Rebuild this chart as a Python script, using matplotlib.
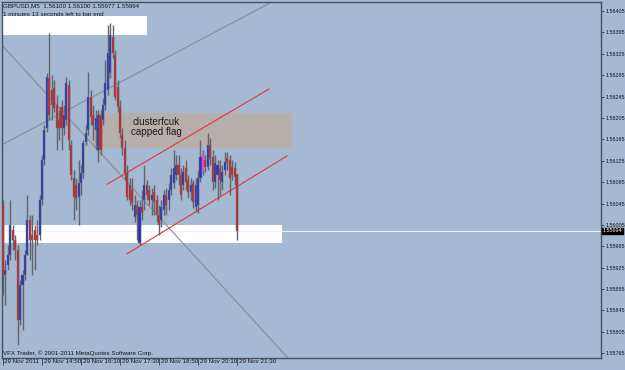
import numpy as np
import matplotlib.pyplot as plt
import matplotlib.transforms as mtransforms
from matplotlib.patches import Rectangle

plt.rcParams['font.family'] = ['Liberation Sans', 'DejaVu Sans']

# GBPUSD M5, 29 Nov 2011 13:30 - 21:30 (97 bars), prices in points (1e-5)
opens = [156042, 155911, 155930, 155949, 155995, 155977, 155958, 155827, 155893, 155911,
         155949, 156014, 155986, 155995, 155986, 155986, 156052, 156126, 156186, 156280,
         156257, 156261, 156229, 156201, 156225, 156186, 156201, 156267, 156154, 156093,
         156080, 156057, 156083, 156102, 156160, 156182, 156244, 156210, 156182, 156145,
         156210, 156201, 156229, 156257, 156289, 156356, 156323, 156263, 156225, 156173,
         156149, 156102, 156080, 156070, 156020, 156042, 155971, 156039, 156052, 156080,
         156070, 156052, 156067, 156052, 156024, 156014, 156033, 156061, 156052, 156070,
         156083, 156098, 156117, 156098, 156080, 156111, 156089, 156067, 156083, 156039,
         156042, 156093, 156104, 156126, 156113, 156154, 156132, 156085, 156098, 156111,
         156085, 156108, 156130, 156126, 156113, 156111, 156100]
highs = [156052, 155939, 155967, 156052, 156005, 155986, 155967, 155902, 155921, 155958,
         156061, 156024, 156024, 156005, 156014, 156061, 156136, 156192, 156289, 156364,
         156285, 156276, 156248, 156220, 156239, 156229, 156282, 156276, 156164, 156108,
         156093, 156126, 156117, 156164, 156192, 156291, 156257, 156229, 156220, 156220,
         156220, 156242, 156313, 156379, 156383, 156379, 156332, 156276, 156239, 156186,
         156164, 156117, 156093, 156093, 156061, 156052, 156052, 156070, 156117, 156089,
         156080, 156074, 156080, 156061, 156042, 156052, 156070, 156074, 156083, 156111,
         156145, 156136, 156136, 156111, 156117, 156126, 156098, 156093, 156089, 156093,
         156108, 156164, 156145, 156136, 156177, 156167, 156145, 156136, 156126, 156126,
         156117, 156141, 156141, 156136, 156126, 156123, 156100]
lows = [155874, 155855, 155921, 155939, 155958, 155939, 155780, 155818, 155809, 155902,
        155949, 155939, 155911, 155921, 155967, 155977, 156042, 156117, 156179, 156201,
        156201, 156216, 156145, 156164, 156145, 156173, 156192, 156145, 156089, 156014,
        156033, 156005, 156061, 156093, 156154, 156173, 156192, 156164, 156145, 156123,
        156136, 156192, 156220, 156248, 156280, 156317, 156239, 156216, 156167, 156136,
        156089, 156052, 156042, 156033, 156010, 155977, 155967, 156014, 156033, 156052,
        156042, 156024, 156024, 156010, 155986, 156001, 156024, 156024, 156033, 156061,
        156074, 156089, 156080, 156052, 156070, 156070, 156055, 156052, 156037, 156029,
        156027, 156085, 156098, 156104, 156108, 156117, 156070, 156074, 156052, 156061,
        156070, 156098, 156108, 156061, 156089, 156080, 155977]
closes = [155911, 155921, 155949, 156005, 155977, 155958, 155827, 155893, 155911, 155949,
          156014, 155977, 155977, 155977, 155977, 156052, 156126, 156182, 156282, 156210,
          156229, 156224, 156186, 156186, 156186, 156210, 156270, 156164, 156098, 156057,
          156055, 156083, 156102, 156158, 156177, 156244, 156207, 156192, 156205, 156210,
          156145, 156229, 156270, 156326, 156360, 156326, 156244, 156225, 156177, 156149,
          156102, 156057, 156052, 156046, 156042, 156024, 156039, 156027, 156080, 156061,
          156052, 156061, 156048, 156024, 156005, 156039, 156061, 156042, 156070, 156098,
          156111, 156117, 156098, 156061, 156104, 156085, 156067, 156080, 156048, 156080,
          156093, 156132, 156136, 156113, 156154, 156130, 156085, 156121, 156117, 156089,
          156104, 156123, 156121, 156093, 156098, 156095, 155994]
magenta_bars = [82]

tick_bars = [0, 16, 32, 48, 64, 80, 96]
tick_labels = ["29 Nov 2011", "29 Nov 14:50", "29 Nov 16:10", "29 Nov 17:30",
               "29 Nov 18:50", "29 Nov 20:10", "29 Nov 21:30"]
price_ticks = [1.55765, 1.55805, 1.55845, 1.55885, 1.55925, 1.55965, 1.56005, 1.56045,
               1.56085, 1.56125, 1.56165, 1.56205, 1.56245, 1.56285, 1.56325, 1.56365,
               1.56405]

# objects drawn on the chart: (bar, price) pairs
gray_line_down = [(-0.41, 1.56341), (116.5, 1.55758)]
gray_line_up = [(-1.2, 1.56153), (112.0, 1.56426)]
red_upper = [(42.7, 1.56081), (109.1, 1.56259)]
red_lower = [(50.9, 1.55951), (116.5, 1.56134)]
top_box = (-0.41, 59.1, 1.56360, 1.56396)
bottom_box = (-0.41, 114.5, 1.55971, 1.56005)
flag_box = (36.5, 118.6, 1.56149, 1.56214)

BG = '#a5b9d3'
FRAME = '#46505e'

o = np.array(opens) / 1e5
h = np.array(highs) / 1e5
l = np.array(lows) / 1e5
c = np.array(closes) / 1e5
x = np.arange(len(o))

fig = plt.figure(figsize=(6.25, 3.7), dpi=100, facecolor=BG)
ax = fig.add_axes([2 / 625, 12 / 370, 599 / 625, 356 / 370])
ax.set_facecolor(BG)

for x0, x1, y0, y1 in [top_box, bottom_box]:
    ax.add_patch(Rectangle((x0, y0), x1 - x0, y1 - y0, color='white', lw=0, zorder=1))
x0, x1, y0, y1 = flag_box
ax.add_patch(Rectangle((x0, y0), x1 - x0, y1 - y0, color='#b6afab', lw=0, zorder=1))

ax.axhline(c[-1], color='#eef2f8', lw=0.8, zorder=1.5)

for pts, col in [(gray_line_down, '#8a8d94'), (gray_line_up, '#8a8d94'),
                 (red_upper, '#e8323a'), (red_lower, '#e8323a')]:
    xs, ys = zip(*pts)
    ax.plot(xs, ys, color=col, lw=0.8, zorder=2)

ax.vlines(x, l, h, color='#62656c', lw=1.0, zorder=3)
body_col = np.where(c >= o, '#2a34b4', '#c0282a').astype(object)
for i in magenta_bars:
    body_col[i] = '#ff40ff'
bottoms = np.minimum(o, c)
heights = np.maximum(np.abs(c - o), 0.000015)
ax.bar(x, heights, bottom=bottoms, width=0.85, color=list(body_col),
       edgecolor='#6e7178', lw=0.3, zorder=4)

ax.text(53.0, 1.56198, "clusterfcuk", fontsize=7.1, color='#1a1a1a', va='center', zorder=5)
ax.text(52.6, 1.56179, "capped flag", fontsize=7.1, color='#1a1a1a', va='center', zorder=5)

ax.set_xlim(-0.41, 245.3)
ax.set_ylim(1.557561, 1.564218)

for s in ax.spines.values():
    s.set_color(FRAME)
    s.set_linewidth(1.0)

ax.yaxis.tick_right()
ax.set_yticks(price_ticks)
ax.set_yticklabels([f"{p:.5f}" for p in price_ticks])
ax.tick_params(axis='y', length=2.5, width=0.6, color='#303840', pad=0.8,
               labelsize=3.9, labelcolor='#101418')

ax.set_xticks(tick_bars)
ax.set_xticklabels(tick_labels)
ax.tick_params(axis='x', length=5, width=0.6, color='#303840', pad=-4.5,
               labelsize=4.5, labelcolor='#101418')
offset = mtransforms.ScaledTranslation(1.5 / 100, 0, fig.dpi_scale_trans)
for lab in ax.get_xticklabels():
    lab.set_horizontalalignment('left')
    lab.set_transform(lab.get_transform() + offset)

ax.text(1.003, c[-1], f"{c[-1]:.5f}", transform=ax.get_yaxis_transform(),
        fontsize=3.9, color='white', va='center', ha='left', zorder=6,
        bbox=dict(boxstyle='square,pad=0.12', fc='black', ec='black'), clip_on=False)

ax.text(0.002, 0.997, "GBPUSD,M5  1.56100 1.56100 1.55977 1.55994", transform=ax.transAxes,
        fontsize=4.5, color='#101418', va='top', ha='left', zorder=6)
ax.text(0.002, 0.972, "1 minutes 13 seconds left to bar end", transform=ax.transAxes,
        fontsize=4.5, color='#101418', va='top', ha='left', zorder=6)
ax.text(0.002, 0.006, "VFX Trader, \u00a9 2001-2011 MetaQuotes Software Corp.",
        transform=ax.transAxes, fontsize=4.5, color='#101418', va='bottom', ha='left', zorder=6)

fig.savefig("out.png", dpi=100, facecolor=BG)
